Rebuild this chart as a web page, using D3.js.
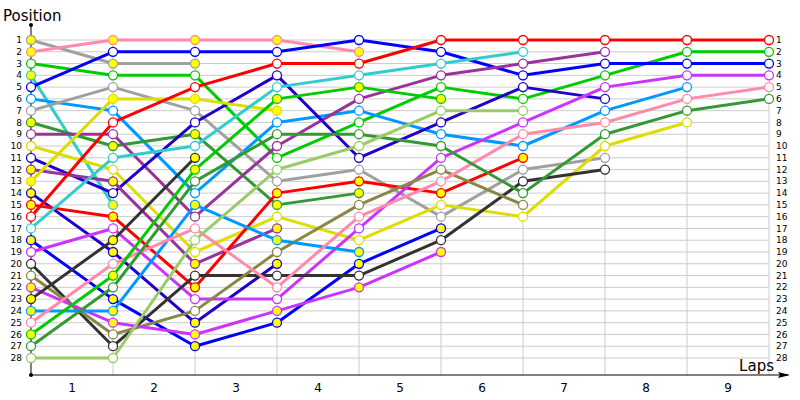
<!DOCTYPE html>
<html><head><meta charset="utf-8">
<script src="https://cdn.jsdelivr.net/npm/d3@7"></script>
<style>body{margin:0;background:#fff}svg{display:block}text{font-family:"DejaVu Sans",Verdana,sans-serif}</style>
</head><body><svg id="c" width="800" height="400"></svg>
<script>
const laps = [1,2,3,4,5,6,7,8,9];
const positionTicks = d3.range(1,29);
const seriesColors = ["#a0a0a0","#ff8aaa","#00cc00","#33cccc","#0000ff","#0099ff","#a0a0a0","#339933","#993399","#dddd00","#2200cc","#993399","#dddd00","#2200cc","#ff0000","#ff0000","#33cccc","#0000ff","#cc33ff","#333333","#888844","#cc33ff","#333333","#0099ff","#ff8aaa","#00cc00","#339933","#99cc66"];
const retired = [true,true,false,true,false,false,false,true,false,false,false,true,true,true,true,false,false,true,false,false,false,true,true,true,false,true,false,false];
const positions = [
  [1,3,3],
  [2,1,1,1,2],
  [3,4,4,11,8,5,6,4,2,2],
  [4,15],
  [5,2,2,2,1,2,4,3,3,3],
  [6,7,14,8,7,9,10,7,5],
  [7,5,7,13,12,16,12,11],
  [8,10,9,15,14],
  [9,9,16,10,6,4,3,2],
  [10,12,19,16,18,15,16,10,8],
  [11,14,8,4,11,8,5,6],
  [12,13,20,17],
  [13,6,6,7],
  [14,19,25,20],
  [15,16,22,14,13,14,11],
  [16,8,5,3,3,1,1,1,1,1],
  [17,11,10,5,4,3,2],
  [18,23,27,25,20,17],
  [19,17,23,23,17,11,8,5,4,4],
  [20,27,21,21,21,18,13,12],
  [21,26,24,19,15,12,15],
  [22,25,26,24,22,19],
  [23,18,11],
  [24,24,15,18,19],
  [25,20,17,22,16,13,9,8,6,5],
  [26,21,12,6,5,6],
  [27,22,13,9,9,10,14,9,7,6],
  [28,28,18,12,10,7,7]
];

const svg = d3.select("#c");
const x = d3.scaleLinear().domain([0,9]).range([31,769]);
const y = d3.scaleLinear().domain([1,28]).range([40,358]);
const axisY = 375;

// grid
svg.append("g").selectAll("line").data(positionTicks).join("line")
  .attr("x1",x(0)).attr("x2",x(9)).attr("y1",d=>y(d)).attr("y2",d=>y(d))
  .attr("stroke","#cccccc").attr("stroke-width",1);
svg.append("g").selectAll("line").data(laps).join("line")
  .attr("x1",d=>x(d)).attr("x2",d=>x(d)).attr("y1",y(1)-5).attr("y2",axisY)
  .attr("stroke","#cccccc").attr("stroke-width",1);

// tick labels
svg.append("g").selectAll("text").data(positionTicks).join("text")
  .attr("x",22).attr("y",d=>y(d)).attr("dy","0.35em").attr("text-anchor","end")
  .attr("font-size",9).attr("fill","#000").text(d=>d);
svg.append("g").selectAll("text").data(positionTicks).join("text")
  .attr("x",776).attr("y",d=>y(d)).attr("dy","0.35em").attr("text-anchor","start")
  .attr("font-size",9).attr("fill","#000").text(d=>d);
svg.append("g").selectAll("text").data(laps).join("text")
  .attr("x",d=>x(d-0.5)).attr("y",392).attr("text-anchor","middle")
  .attr("font-size",12).attr("fill","#000").text(d=>d);

// axes
svg.append("line").attr("x1",x(0)).attr("x2",x(0)).attr("y1",25).attr("y2",axisY).attr("stroke","#000").attr("stroke-width",1);
svg.append("line").attr("x1",x(0)).attr("x2",788).attr("y1",axisY).attr("y2",axisY).attr("stroke","#000").attr("stroke-width",1);
svg.append("circle").attr("cx",x(0)).attr("cy",25).attr("r",2).attr("fill","#000");
svg.append("circle").attr("cx",x(0)).attr("cy",axisY).attr("r",2).attr("fill","#000");
svg.append("path").attr("d",`M790,${axisY} L778,${axisY-3} L780,${axisY} L778,${axisY+3} Z`).attr("fill","#000");
svg.append("text").attr("x",3).attr("y",21).attr("font-size",15).attr("fill","#000").text("Position");
svg.append("text").attr("x",774).attr("y",371).attr("text-anchor","end").attr("font-size",15).attr("fill","#000").text("Laps");

// lines
const line = d3.line().x((d,i)=>x(i)).y(d=>y(d));
svg.append("g").selectAll("path").data(positions).join("path")
  .attr("d",d=>line(d)).attr("fill","none")
  .attr("stroke",(d,i)=>seriesColors[i]).attr("stroke-width",3).attr("stroke-linejoin","round");

// markers
const mk = svg.append("g");
positions.forEach((s,i)=>{
  mk.selectAll(null).data(s).join("circle")
    .attr("cx",(d,j)=>x(j)).attr("cy",d=>y(d)).attr("r",4.5)
    .attr("fill",retired[i]?"#ffff00":"#ffffff")
    .attr("stroke",seriesColors[i]).attr("stroke-width",1.3);
});
</script></body></html>
